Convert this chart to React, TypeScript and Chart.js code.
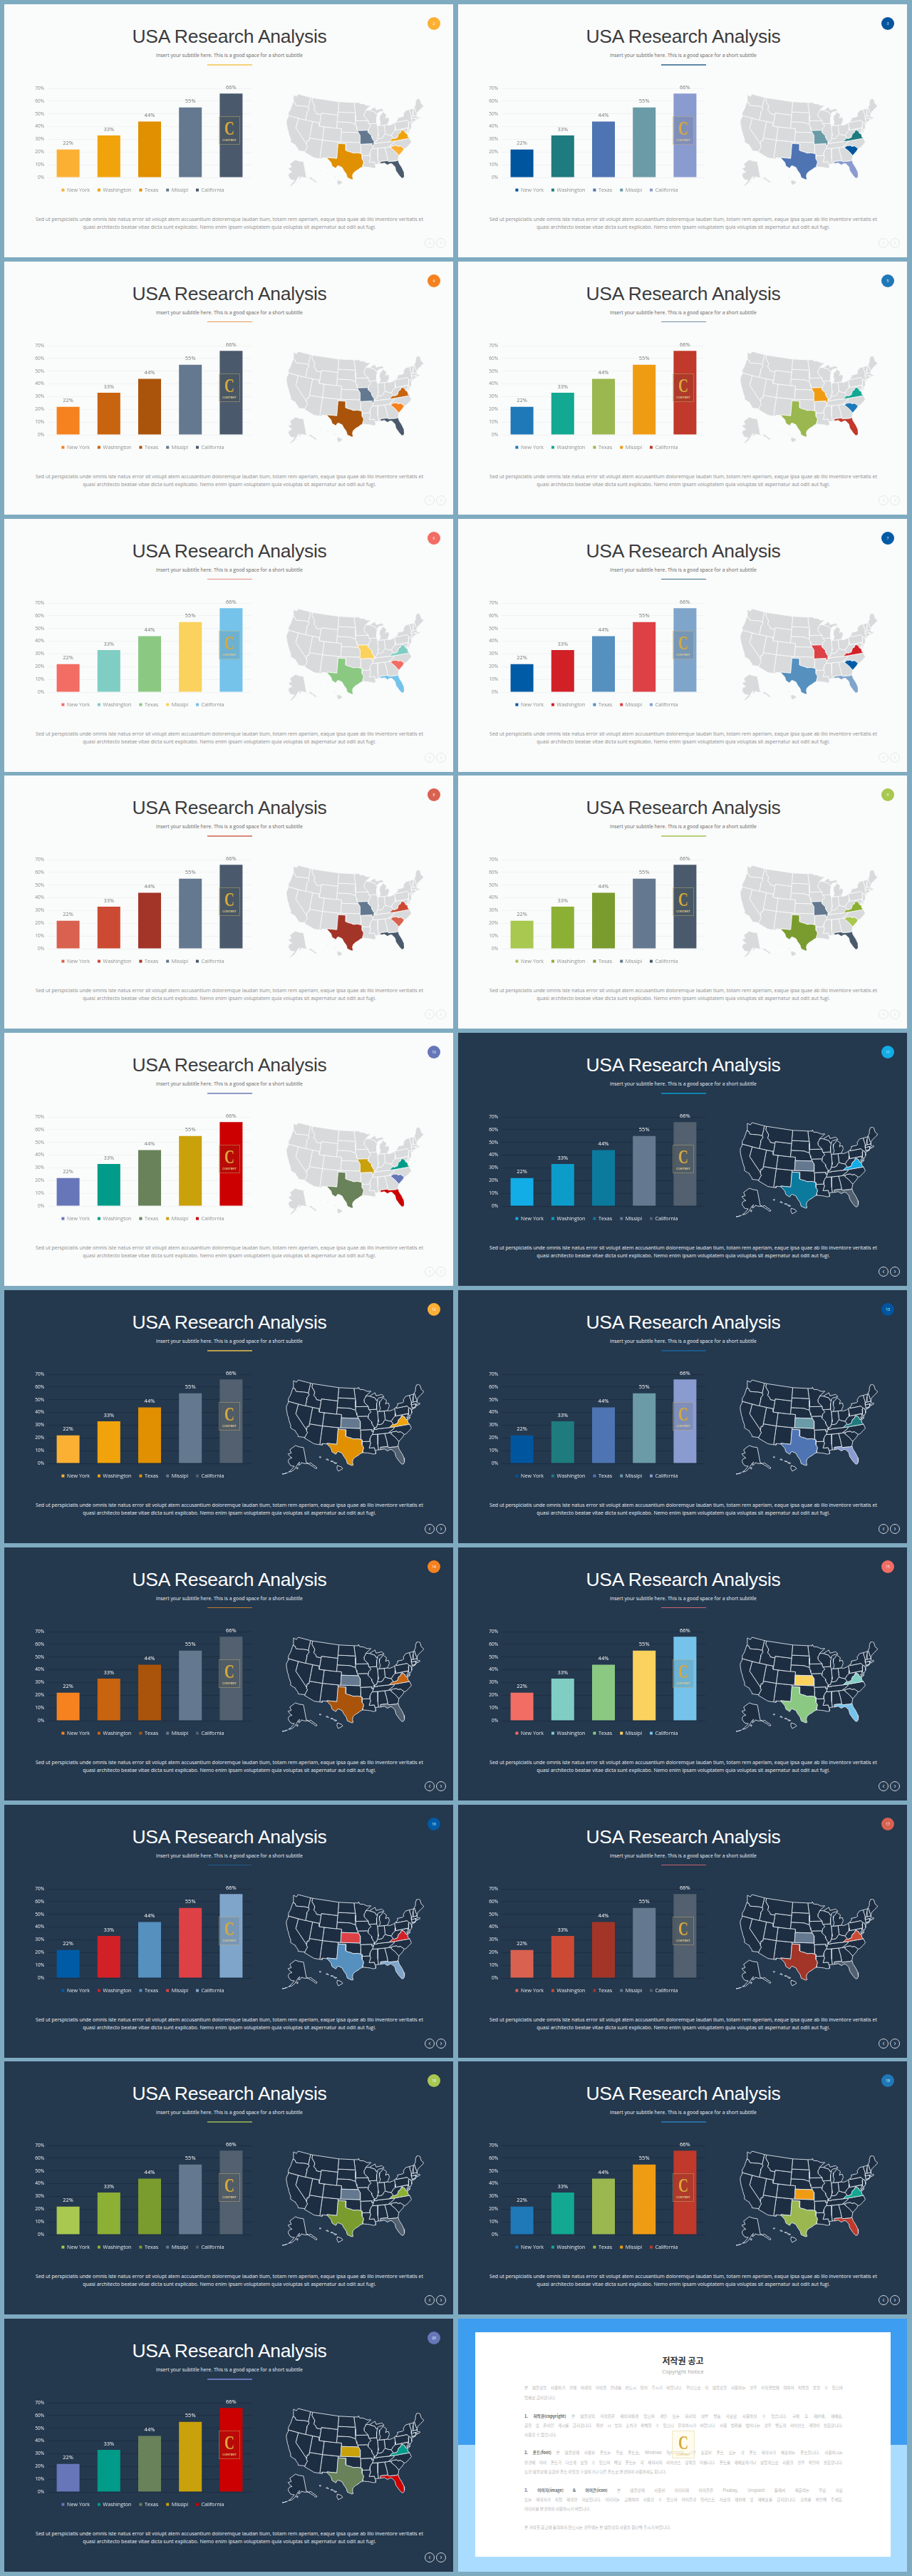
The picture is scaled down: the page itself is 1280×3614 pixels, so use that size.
import React, { useEffect, useRef } from "react";
import { Chart, registerables } from "chart.js";
Chart.register(...registerables);

const categories = ["New York", "Washington", "Texas", "Missipi", "California"];
const seriesValues = [22, 33, 44, 55, 66];
const yTickLabels = ["0%", "10%", "20%", "30%", "40%", "50%", "60%", "70%"];

const yellow = ["#fbb034", "#f0a30a", "#e09000", "#64798f", "#4a5a6c"];
const navy = ["#00559f", "#1e7b7e", "#4f74b3", "#6a9ba6", "#8a9bd0"];
const orange = ["#f5821f", "#c8630f", "#a9540a", "#64798f", "#4a5a6c"];
const blue = ["#1f78b8", "#12a892", "#9ab84f", "#f09c13", "#c0392b"];
const salmon = ["#f26d63", "#7fcdc3", "#8bc983", "#fad25d", "#75c3ea"];
const navyRed = ["#005ba6", "#d22027", "#5590bf", "#dd4146", "#7fa5cb"];
const red = ["#d9614f", "#cc4a33", "#a33528", "#64798f", "#4a5a6c"];
const green = ["#a8c850", "#8cb034", "#7a9c2f", "#64798f", "#4a5a6c"];
const purple = ["#6676b8", "#009b89", "#698259", "#c9a10b", "#cc0000"];
const cyan = ["#12ace6", "#0c9cc9", "#0b7a9d", "#64798f", "#52606f"];

const pageNumbers = [2, 3, 4, 5, 6, 7, 8, 9, 10, 11, 12, 13, 14, 15, 16, 17, 18, 19, 20];
const slidePalettes = [yellow, navy, orange, blue, salmon, navyRed, red, green, purple, cyan, yellow, navy, orange, salmon, navyRed, red, green, blue, purple];
const slideDark = [false, false, false, false, false, false, false, false, false, true, true, true, true, true, true, true, true, true, true];
const slideUnderlines = ["#f5d27a", "#5f86a6", "#e99a50", "#6f8faa", "#e58a84", "#3b6e8e", "#d9887a", "#b8d07a", "#8f9ac4", "#0b84ad", "#b9a050", "#1d5a8a", "#c37a2a", "#cf6670", "#1d5a8a", "#c9606a", "#7f9b50", "#2a6f9e", "#6676b8"];

const title = "USA Research Analysis";
const subtitle = "Insert your subtitle here. This is a good space for a short subtitle";
const bodyLine1 = "Sed ut perspiciatis unde omnis iste natus error sit volupt atem accusantium doloremque laudan tium, totam rem aperiam, eaque ipsa quae ab illo inventore veritatis et";
const bodyLine2 = "quasi architecto beatae vitae dicta sunt explicabo. Nemo enim ipsam voluptatem quia voluptas sit aspernatur aut odit aut fugi.";

// State outlines as longitude, latitude pairs.
const states: Record<string, number[]> = {
  WA: [-124.7,48.4,-123.2,48.2,-122.8,49,-117,49,-117,46,-118.98,46,-119.3,45.93,-121.2,45.65,-122.3,45.55,-123,46.2,-124,46.25,-124.1,47],
  OR: [-124,46.25,-123,46.2,-122.3,45.55,-121.2,45.65,-119.3,45.93,-118.98,46,-117,46,-116.5,45.5,-117.2,44.4,-117,44,-117,42,-124.2,42,-124.5,42.8,-124.1,44],
  CA: [-124.2,42,-120,42,-120,39,-114.63,35,-114.7,34.8,-114.13,34.3,-114.5,33.5,-114.72,32.72,-117.12,32.53,-117.3,33,-118.4,33.75,-118.5,34.03,-119.2,34.15,-120.6,34.55,-120.7,35.2,-121.9,36.6,-122.5,37.5,-123,38,-123.8,39.3,-124.35,40.4,-124.1,41.5],
  NV: [-120,42,-114.04,42,-114.04,36.2,-114.7,36.1,-114.63,35,-120,39],
  ID: [-117,49,-116.05,49,-116.05,48,-114.35,46.66,-114.5,45.6,-113.5,45.1,-113,44.5,-111.05,44.5,-111.05,42,-117,42,-117,44,-117.2,44.4,-116.5,45.5,-117,46],
  MT: [-116.05,49,-104.05,49,-104.05,45,-111.05,45,-111.05,44.5,-113,44.5,-113.5,45.1,-114.5,45.6,-114.35,46.66,-116.05,48],
  WY: [-111.05,45,-104.05,45,-104.05,41,-111.05,41],
  UT: [-114.04,42,-111.05,42,-111.05,41,-109.05,41,-109.05,37,-114.04,37],
  CO: [-109.05,41,-102.05,41,-102.05,37,-109.05,37],
  AZ: [-114.04,37,-109.05,37,-109.05,31.33,-111.07,31.33,-114.8,32.5,-114.72,32.72,-114.5,33.5,-114.13,34.3,-114.7,34.8,-114.63,35,-114.7,36.1,-114.04,36.2],
  NM: [-109.05,37,-103,37,-103,32,-106.6,32,-106.5,31.78,-108.2,31.78,-108.2,31.33,-109.05,31.33],
  ND: [-104.05,49,-97.2,49,-96.8,47,-96.55,45.94,-104.05,45.94],
  SD: [-104.05,45.94,-96.55,45.94,-96.45,45.3,-96.45,43.5,-96.5,42.5,-97.9,42.8,-98.5,43,-104.05,43],
  NE: [-104.05,43,-98.5,43,-97.9,42.8,-96.5,42.5,-96.1,41.6,-95.9,41,-95.3,40,-102.05,40,-102.05,41,-104.05,41],
  KS: [-102.05,40,-95.3,40,-94.62,39.1,-94.62,37,-102.05,37],
  OK: [-103,37,-94.62,37,-94.43,35.4,-94.48,33.64,-95.6,33.9,-97.2,33.8,-98.1,34.1,-99.2,34.3,-100,34.56,-100,36.5,-103,36.5],
  TX: [-106.6,32,-103.06,32,-103,36.5,-100,36.5,-100,34.56,-99.2,34.3,-98.1,34.1,-97.2,33.8,-95.6,33.9,-94.48,33.64,-94.04,33.55,-94.04,32,-93.7,31.5,-93.55,31.1,-93.85,30.2,-93.85,29.7,-94.7,29.4,-95.4,28.9,-96.4,28.4,-97.2,27.7,-97.4,26.9,-97.15,25.95,-97.6,25.85,-99.1,26.4,-99.5,27.5,-100.4,28.5,-101,29.4,-102.3,29.85,-102.7,29.7,-103.15,28.98,-104.5,29.6,-105,30.65,-106.5,31.78],
  MN: [-97.2,49,-95.15,49,-95.15,49.38,-94.6,48.7,-92.9,48.6,-91.4,48.05,-89.6,48,-92,46.7,-92.3,46.1,-92.85,45.6,-92.75,44.75,-91.2,43.5,-96.45,43.5,-96.45,45.3,-96.55,45.94,-96.8,47],
  IA: [-96.45,43.5,-91.2,43.5,-91.1,42.7,-90.2,41.8,-91.1,41.2,-91.4,40.4,-91.7,40.6,-95.75,40.6,-95.9,41,-96.1,41.6,-96.5,42.5],
  MO: [-95.75,40.6,-91.7,40.6,-91.4,40.4,-91.5,40,-90.7,39.3,-90.1,38.8,-90.2,38.4,-89.5,37.3,-89.15,37,-89.4,36.5,-89.7,36,-90.35,36,-90.1,36.5,-94.62,36.5,-94.62,39.1,-95.3,40],
  AR: [-94.62,36.5,-90.1,36.5,-90.35,36,-89.7,36,-90.1,35.1,-90.6,34.7,-91.1,33.9,-91.17,33,-94.04,33,-94.04,33.55,-94.48,33.64,-94.43,35.4],
  LA: [-94.04,33,-91.17,33,-91,32.4,-91.6,31,-89.75,31,-89.6,30.2,-89.4,29.9,-89.4,29.2,-90.2,29.1,-91.3,29.4,-92.3,29.55,-93.85,29.7,-93.85,30.2,-93.55,31.1,-93.7,31.5,-94.04,32],
  WI: [-92,46.7,-90.4,46.55,-88.1,45.9,-87.6,45.1,-87,45.3,-87.6,44.2,-87.8,42.5,-90.64,42.5,-91.1,42.7,-91.2,43.5,-92.75,44.75,-92.85,45.6,-92.3,46.1],
  IL: [-90.64,42.5,-87.8,42.5,-87.55,41.7,-87.53,39.3,-87.6,38.7,-88,37.9,-88.45,37.1,-89.15,37,-89.5,37.3,-90.2,38.4,-90.1,38.8,-90.7,39.3,-91.5,40,-91.4,40.4,-91.1,41.2,-90.2,41.8,-91.1,42.7],
  MIL: [-86.8,41.76,-84.8,41.73,-83.45,41.73,-83.1,42.2,-82.45,43,-82.6,43.9,-83.3,43.95,-83.9,43.7,-83.3,44.8,-84.7,45.75,-85.5,45,-86.2,44.7,-86.5,43.6,-86.2,42.7],
  MIU: [-90.4,46.55,-87.9,47.47,-87.5,46.5,-85,46.75,-84.1,46,-85,45.95,-86.5,45.8,-87.6,45.1,-88.1,45.9],
  IN: [-87.53,41.7,-86.8,41.76,-84.8,41.7,-84.82,39.1,-85.4,38.7,-86,38,-87.1,37.8,-88,37.9,-87.6,38.7,-87.53,39.3],
  OH: [-84.8,41.7,-83.45,41.73,-82.7,41.5,-81.2,41.75,-80.52,42,-80.52,40.6,-80.8,39.7,-81.7,39.2,-82.3,38.6,-82.6,38.42,-83.7,38.65,-84.82,39.1],
  KY: [-89.4,36.5,-89.15,37,-88.45,37.1,-88,37.9,-87.1,37.8,-86,38,-85.4,38.7,-84.82,39.1,-83.7,38.65,-82.6,38.42,-82,37.5,-83.67,36.6,-88.07,36.6,-88.07,36.5],
  TN: [-90.1,35,-89.7,36,-89.4,36.5,-88.07,36.5,-88.07,36.6,-83.67,36.6,-81.68,36.59,-82,36.1,-84.3,35,-88.2,35],
  MS: [-91.17,33,-91.1,33.9,-90.6,34.7,-90.1,35,-88.2,35,-88.45,31.9,-88.4,30.3,-89.6,30.2,-89.75,31,-91.6,31,-91,32.4],
  AL: [-88.2,35,-85.6,35,-85.18,32.87,-85,31,-87.6,31,-87.5,30.3,-88.4,30.3,-88.45,31.9],
  GA: [-85.6,35,-83.1,35,-83.35,34.7,-81.9,33.4,-80.9,32.05,-81.4,30.72,-82.2,30.57,-84.85,30.7,-85,31,-85.18,32.87],
  FL: [-87.6,31,-85,31,-84.85,30.7,-82.2,30.57,-81.4,30.72,-81.2,29.7,-80.5,28.3,-80.05,26.9,-80.15,25.7,-80.5,25.2,-81.1,25.15,-81.8,26.1,-82.7,27.7,-82.8,28.9,-83.7,29.9,-84.3,30.05,-85.3,29.7,-86.3,30.4,-87.5,30.3],
  SC: [-83.1,35,-82.4,35.2,-81,35.15,-80.8,34.82,-79.67,34.8,-78.55,33.86,-79.2,33.2,-80.9,32.05,-81.9,33.4,-83.35,34.7],
  NC: [-84.3,35,-82,36.1,-81.68,36.59,-75.85,36.55,-75.5,35.25,-76.5,34.65,-77.9,33.9,-78.55,33.86,-79.67,34.8,-80.8,34.82,-81,35.15,-82.4,35.2,-83.1,35],
  VA: [-83.67,36.6,-81.68,36.59,-75.85,36.55,-76.3,37,-76.3,37.9,-77,38.3,-77.05,38.85,-77.7,39.32,-78.35,39.4,-78.9,38.75,-79.65,38.55,-80.3,37.5,-81.7,37.25,-82,37.5],
  WV: [-82.6,38.42,-82,37.5,-81.7,37.25,-80.3,37.5,-79.65,38.55,-78.9,38.75,-78.35,39.4,-77.7,39.32,-78.2,39.7,-79.48,39.72,-80.52,39.72,-80.52,40.6,-80.8,39.7,-81.7,39.2,-82.3,38.6],
  PA: [-80.52,42,-79.76,42.25,-79.76,42,-75.35,42,-74.7,41.35,-75.1,40.95,-75.15,40,-75.4,39.8,-80.52,39.72],
  NY: [-79.76,42.25,-78.9,42.9,-79.05,43.27,-76.8,43.3,-76.2,43.55,-76.3,44.1,-75,44.95,-73.35,45,-73.4,44,-73.25,43.6,-73.27,42.75,-73.5,42.05,-73.5,41.3,-73.65,41,-72,41.05,-73.9,40.57,-74.05,41,-74.7,41.35,-75.35,42,-79.76,42],
  NJ: [-74.7,41.35,-74.05,41,-74,40.4,-74.1,39.7,-74.9,38.95,-75.5,39.5,-75.15,40,-75.1,40.95],
  DE: [-75.75,39.72,-75.4,39.8,-75.1,38.5,-75.7,38.45],
  MD: [-79.48,39.72,-75.75,39.72,-75.7,38.45,-75.1,38.45,-75.9,37.95,-76.3,38.9,-76.3,37.9,-77,38.3,-77.05,38.85,-77.7,39.32,-78.2,39.7],
  CT: [-73.5,42.05,-71.8,42.02,-71.85,41.32,-73.65,41,-73.5,41.3],
  RI: [-71.8,42.02,-71.38,42.02,-71.15,41.5,-71.85,41.32],
  MA: [-73.27,42.75,-71.3,42.7,-70.8,42.85,-71,42.3,-70.6,41.95,-70.1,42.05,-70,41.65,-71.15,41.5,-71.38,42.02,-73.5,42.05],
  VT: [-73.35,45,-71.5,45,-72.05,44.2,-72.45,43.1,-72.45,42.73,-73.27,42.75,-73.25,43.6,-73.4,44],
  NH: [-71.5,45,-71.1,45.3,-70.97,43.4,-70.7,43.07,-70.8,42.85,-71.3,42.7,-72.45,42.73,-72.45,43.1,-72.05,44.2],
  ME: [-71.1,45.3,-70.3,45.9,-70,46.7,-69.2,47.45,-68.3,47.35,-67.8,47.07,-67.8,45.7,-67,44.85,-68.5,44.3,-70.2,43.6,-70.7,43.07,-70.97,43.4],
};
const alaska: number[][] = [
  [-141,69.65,-141,60.3,-138,59.3,-135.5,59.5,-133.5,58,-130.5,56,-130,55,-131.8,55.2,-134,57,-136,58,-139,59.5,-144,60,-147.5,60.8,-148.5,60,-151.5,59.2,-150,61.2,-152,60.5,-154,59,-156.5,57,-160,55.4,-163.5,54.8,-161,56,-158,58,-157,58.8,-159,58.7,-162,59,-165,60.5,-166,61.6,-164.5,63,-161,63.6,-165,64.5,-168,65.6,-163,66.5,-166.5,68.3,-163,69.5,-156.6,71.3,-150,70.5],
  [-164.5,54.3,-167.5,53.4,-170,52.8,-168,53.2],
  [-154.5,57.7,-152.5,58,-153,57],
];
const hawaii: number[][] = [
  [-155.9,20.2,-155.1,19.9,-154.8,19.5,-155.7,18.95,-156,19.6],
  [-156.7,20.95,-156,20.75,-156.4,20.6],
  [-157.3,21.2,-156.75,21.15,-157,21.05],
  [-158.25,21.55,-157.7,21.4,-158,21.7],
  [-159.7,22.1,-159.3,22.1,-159.5,21.9],
];

const conic = (lon: number, lat: number, lon0: number, lat0: number) => {
  const r = Math.PI / 180;
  const n = Math.sin(lat0 * r);
  const c = lat0 + 57.2958 / Math.tan(lat0 * r);
  const rho = c - lat;
  const th = n * (lon - lon0) * r;
  return [rho * Math.sin(th), -rho * Math.cos(th)];
};
type Pt = { x: number; y: number };
const fitGroup = (polys: number[][], lon0: number, lat0: number, x0: number, x1: number, y0: number, y1: number): Pt[][] => {
  const pr = polys.map((p) => {
    const out: number[][] = [];
    for (let i = 0; i < p.length; i += 2) out.push(conic(p[i], p[i + 1], lon0, lat0));
    out.push(out[0]);
    return out;
  });
  const all = pr.flat();
  const minX = Math.min(...all.map((a) => a[0])), maxX = Math.max(...all.map((a) => a[0]));
  const minY = Math.min(...all.map((a) => a[1])), maxY = Math.max(...all.map((a) => a[1]));
  return pr.map((p) => p.map((a) => ({
    x: x0 + ((a[0] - minX) / (maxX - minX)) * (x1 - x0),
    y: y0 + ((maxY - a[1]) / (maxY - minY)) * (y1 - y0),
  })));
};
const stateNames = Object.keys(states);
const lower48 = fitGroup(stateNames.map((s) => states[s]), -96, 37.5, 396, 589, 126, 246);
const akShapes = fitGroup(alaska, -154, 63, 390, 439, 218, 258);
const hiShapes = fitGroup(hawaii, -157, 21, 442, 475, 234, 254);

const BarChart = ({ colors, dark }: { colors: string[]; dark: boolean }) => {
  const ref = useRef<HTMLCanvasElement>(null);
  useEffect(() => {
    const textColor = dark ? "#f2f4f6" : "#8a8a8a";
    const chart = new Chart(ref.current!, {
      type: "bar",
      data: {
        labels: categories,
        datasets: [{ data: seriesValues, backgroundColor: colors, barPercentage: 0.56, categoryPercentage: 1 }],
      },
      options: {
        animation: false,
        responsive: false,
        events: [],
        layout: { padding: { top: 18, right: 32, bottom: 0, left: 0 } },
        scales: {
          x: { display: false },
          y: {
            min: 0,
            max: 70,
            border: { display: false },
            grid: { color: dark ? "#1c2e41" : "#f1f2f3", lineWidth: 1, drawTicks: false },
            ticks: {
              stepSize: 10,
              padding: 5,
              color: textColor,
              font: { family: "Open Sans", size: 6.5 },
              callback: (_v: any, i: number) => yTickLabels[i],
            },
            afterFit: (s: any) => { s.width = 41; },
          },
        },
        plugins: {
          tooltip: { enabled: false },
          legend: {
            position: "bottom",
            labels: {
              boxWidth: 4,
              boxHeight: 4,
              padding: 11,
              color: dark ? "#e6eaee" : "#8f8f8f",
              font: { family: "Open Sans", size: 7.2 },
              generateLabels: () => categories.map((text, i) => ({
                text, fillStyle: colors[i], strokeStyle: colors[i], lineWidth: 0, hidden: false, index: i,
                fontColor: dark ? "#e6eaee" : "#8f8f8f",
              })),
            },
          },
        },
      },
      plugins: [
        {
          id: "legendPlacement",
          beforeLayout(c: any) {
            const l = c.legend;
            if (!l.__fixed) {
              const fit = l.fit;
              l.fit = function () { fit.call(this); this.height = 37; };
              l.__fixed = true;
            }
          },
          afterLayout(c: any) {
            const l = c.legend;
            l.top = c.chartArea.bottom + 3;
            l.left += 11;
            l.right += 11;
          },
        },
        {
          id: "barLabels",
          afterDatasetsDraw(c: any) {
            const ctx = c.ctx;
            ctx.save();
            ctx.fillStyle = dark ? "#ffffff" : "#777777";
            ctx.font = '7.5px "Open Sans"';
            ctx.textAlign = "center";
            ctx.textBaseline = "middle";
            c.getDatasetMeta(0).data.forEach((bar: any, i: number) => {
              ctx.fillText(`${seriesValues[i]}%`, bar.x, bar.y - 8.5);
            });
            ctx.restore();
          },
        },
      ],
    } as any);
    return () => chart.destroy();
  }, []);
  return <canvas ref={ref} width={359} height={180} style={{ position: "absolute", left: 20, top: 100 }} />;
};

const MapChart = ({ colors, dark, vaIndex }: { colors: string[]; dark: boolean; vaIndex: number }) => {
  const ref = useRef<HTMLCanvasElement>(null);
  useEffect(() => {
    const base = dark ? "#1e2e42" : "#d9dadc";
    const stroke = dark ? "#dfe7ee" : "#fafbfb";
    const highlight: Record<string, string> = dark
      ? { TX: colors[2], KS: colors[3], VA: colors[vaIndex], FL: colors[4] }
      : { TX: colors[2], MO: colors[3], VA: colors[1], SC: colors[0], FL: colors[4] };
    const mk = (data: Pt[], fill: string, order: number) => ({
      data, showLine: true, fill: "shape", backgroundColor: fill, borderColor: stroke,
      borderWidth: dark ? 0.9 : 0.8, pointRadius: 0, order, borderJoinStyle: "round",
    });
    const datasets = [
      ...stateNames.map((s, i) => mk(lower48[i], highlight[s] || base, highlight[s] ? -1 : 0)),
      ...akShapes.map((p) => mk(p, base, 0)),
      ...hiShapes.map((p) => mk(p, base, 0)),
    ];
    const chart = new Chart(ref.current!, {
      type: "scatter",
      data: { datasets },
      options: {
        animation: false,
        responsive: false,
        events: [],
        layout: { padding: 0 },
        scales: {
          x: { type: "linear", display: false, min: 380, max: 605 },
          y: { type: "linear", display: false, min: 110, max: 265, reverse: true },
        },
        plugins: { legend: { display: false }, tooltip: { enabled: false } },
      },
    } as any);
    return () => chart.destroy();
  }, []);
  return <canvas ref={ref} width={225} height={155} style={{ position: "absolute", left: 380, top: 110 }} />;
};

const Logo = ({ style }: { style: React.CSSProperties }) => (
  <div style={{ position: "absolute", width: 30, height: 40, boxSizing: "border-box", border: "1px solid rgba(214,190,120,.4)", background: "rgba(70,70,50,.14)", textAlign: "center", overflow: "hidden", ...style }}>
    <div style={{ font: 'bold 27px/28px "Liberation Serif"', color: "#d8a93c", transform: "scaleX(.72)", marginTop: 2 }}>C</div>
    <div style={{ font: 'bold 4px/5px "Liberation Sans"', color: "#e2c98a", whiteSpace: "nowrap" }}>CONTENT</div>
  </div>
);

const abs = (left: number, top: number, extra: React.CSSProperties = {}): React.CSSProperties => ({ position: "absolute", left, top, ...extra });

const Slide = ({ index }: { index: number }) => {
  const dark = slideDark[index];
  const colors = slidePalettes[index].slice();
  if (dark && colors[4] === "#4a5a6c") colors[4] = "#52606f";
  const page = pageNumbers[index];
  const row = Math.floor(index / 2);
  const col = index % 2;
  const fg = dark ? "#ffffff" : "#3c3c3c";
  const center = (top: number, h: number): React.CSSProperties => ({
    position: "absolute", left: 0, width: 632, top, lineHeight: `${h}px`, textAlign: "center", whiteSpace: "nowrap",
  });
  const navBorder = dark ? "#cfd6dc" : "#e6e8ea";
  return (
    <div style={{ position: "absolute", left: col ? 643 : 6, top: 6 + row * 360.8, width: 630, height: 355, background: dark ? "#24384e" : "#fafbfb", overflow: "hidden" }}>
      <div style={{ ...center(28, 34), font: '26.5px/34px "Liberation Sans"', color: fg, letterSpacing: -0.25 }}>{title}</div>
      <div style={{ ...center(67, 10), font: '6.9px/10px "Open Sans"', color: dark ? "#f0f3f5" : "#666" }}>{subtitle}</div>
      <div style={abs(285, 84, { width: 63, height: 1.6, background: slideUnderlines[index] })} />
      <BarChart colors={colors} dark={dark} />
      <MapChart colors={colors} dark={dark} vaIndex={page === 11 ? 0 : 1} />
      <Logo style={abs(301, 157)} />
      <div style={{ ...center(296, 11), font: '7px/11px "Open Sans"', color: dark ? "#eef1f4" : "#8d8d8d" }}>{bodyLine1}</div>
      <div style={{ ...center(307, 11), font: '7px/11px "Open Sans"', color: dark ? "#eef1f4" : "#8d8d8d" }}>{bodyLine2}</div>
      <div style={abs(594, 18, { width: 18, height: 18, borderRadius: 9, background: colors[0], color: "#fff", font: '5px/18px "Open Sans"', textAlign: "center" })}>{page}</div>
      {["‹", "›"].map((g, i) => (
        <div key={g} style={abs(590 + i * 16, 328, { width: 12, height: 12, boxSizing: "content-box", borderRadius: 7, border: `1px solid ${navBorder}`, color: navBorder, font: '10px/11px "Open Sans"', textAlign: "center" })}>{g}</div>
      ))}
    </div>
  );
};

const noticeLines: [number, string, string, number][] = [
  [3350, "", "본 템플릿을 사용하기 전에 아래의 저작권 안내를 반드시 읽어 주시기 바랍니다. 무단으로 이 템플릿을 사용하는 경우 저작권법에 의하여 처벌을 받을 수 있으며", 447],
  [3364, "", "법률로 금지합니다.", 61],
  [3390, "1. 저작권(copyright)", " 본 템플릿의 저작권은 제작자에게 있으며 개인 또는 회사의 내부 발표 자료로 사용하실 수 있습니다. 구매 후 재판매, 재배포,", 447],
  [3403, "", "공유 및 온라인 게시를 금지합니다. 위반 시 법적 조치가 취해질 수 있으니 유의하시기 바랍니다. 사용 범위를 벗어나는 경우 별도의 라이선스 계약이 필요합니다.", 447],
  [3416, "", "사용할 수 없습니다.", 48],
  [3441, "2. 폰트(font)", " 본 템플릿에 사용된 폰트는 무료 폰트로, Windows System에 기본 포함된 폰트 또는 각 폰트 제작사가 배포하는 폰트입니다. 사용하시는", 447],
  [3455, "", "환경에 따라 폰트가 다르게 보일 수 있으며 해당 폰트는 각 제작사의 라이선스 정책을 따릅니다. 폰트를 재배포하거나 상업적으로 사용할 경우 확인이 필요합니다.", 447],
  [3468, "", "또한 템플릿에 포함된 폰트 파일을 수정하거나 다른 폰트로 변경하여 사용하셔도 됩니다.", 351],
  [3494, "3. 이미지(image) & 아이콘(icon)", " 본 템플릿에 사용된 이미지와 아이콘은 Pixabay, Unsplash 등에서 제공하는 무료 자료", 447],
  [3507, "", "또는 제작자가 직접 제작한 자료입니다. 이미지는 교체하여 사용할 수 있으며 아이콘과 일러스트 자료의 재판매 및 재배포를 금지합니다. 출처를 확인해 주세요.", 447],
  [3520, "", "이미지를 변경하여 사용하시기 바랍니다.", 137],
  [3546, "", "본 저작권 공고에 동의하지 않으시는 경우에는 본 템플릿의 사용을 중단해 주시기 바랍니다.", 286],
];

const Notice = () => (
  <div>
    <div style={{ position: "absolute", left: 643, top: 3253, width: 630, height: 177, background: "#3d9df0" }} />
    <div style={{ position: "absolute", left: 643, top: 3430, width: 630, height: 178, background: "#aadcff" }} />
    <div style={{ position: "absolute", left: 667, top: 3272, width: 583, height: 315, background: "#ffffff" }} />
    <div style={{ position: "absolute", left: 667, width: 583, top: 3304, textAlign: "center", font: 'bold 12px/16px "Noto Sans CJK KR"', color: "#333" }}>저작권 공고</div>
    <div style={{ position: "absolute", left: 667, width: 583, top: 3321, textAlign: "center", font: '7.5px/12px "Open Sans"', color: "#a5a5a5" }}>Copyright Notice</div>
    {noticeLines.map(([y, bold, text, w]) => (
      <div key={y} style={{ position: "absolute", left: 736, top: y - 5, width: w, whiteSpace: w === 447 ? "normal" : "nowrap", overflow: "hidden", height: 10, font: '5.6px/10px "Noto Sans CJK KR"', color: "#b5b5b5", textAlign: "justify", textAlignLast: w === 447 ? "justify" : "left" }}>
        {bold && <span style={{ fontWeight: 700, color: "#666" }}>{bold}</span>}
        {text}
      </div>
    ))}
    <Logo style={{ left: 943, top: 3410, width: 32, height: 39, background: "rgba(255,250,225,.55)", border: "1px solid #efe6c4" }} />
  </div>
);

export default function App() {
  return (
    <div style={{ position: "relative", width: 1280, height: 3614, background: "#7fabc1", overflow: "hidden" }}>
      <style>{"html,body{margin:0;padding:0}"}</style>
      {pageNumbers.map((_, i) => <Slide key={i} index={i} />)}
      <Notice />
    </div>
  );
}
